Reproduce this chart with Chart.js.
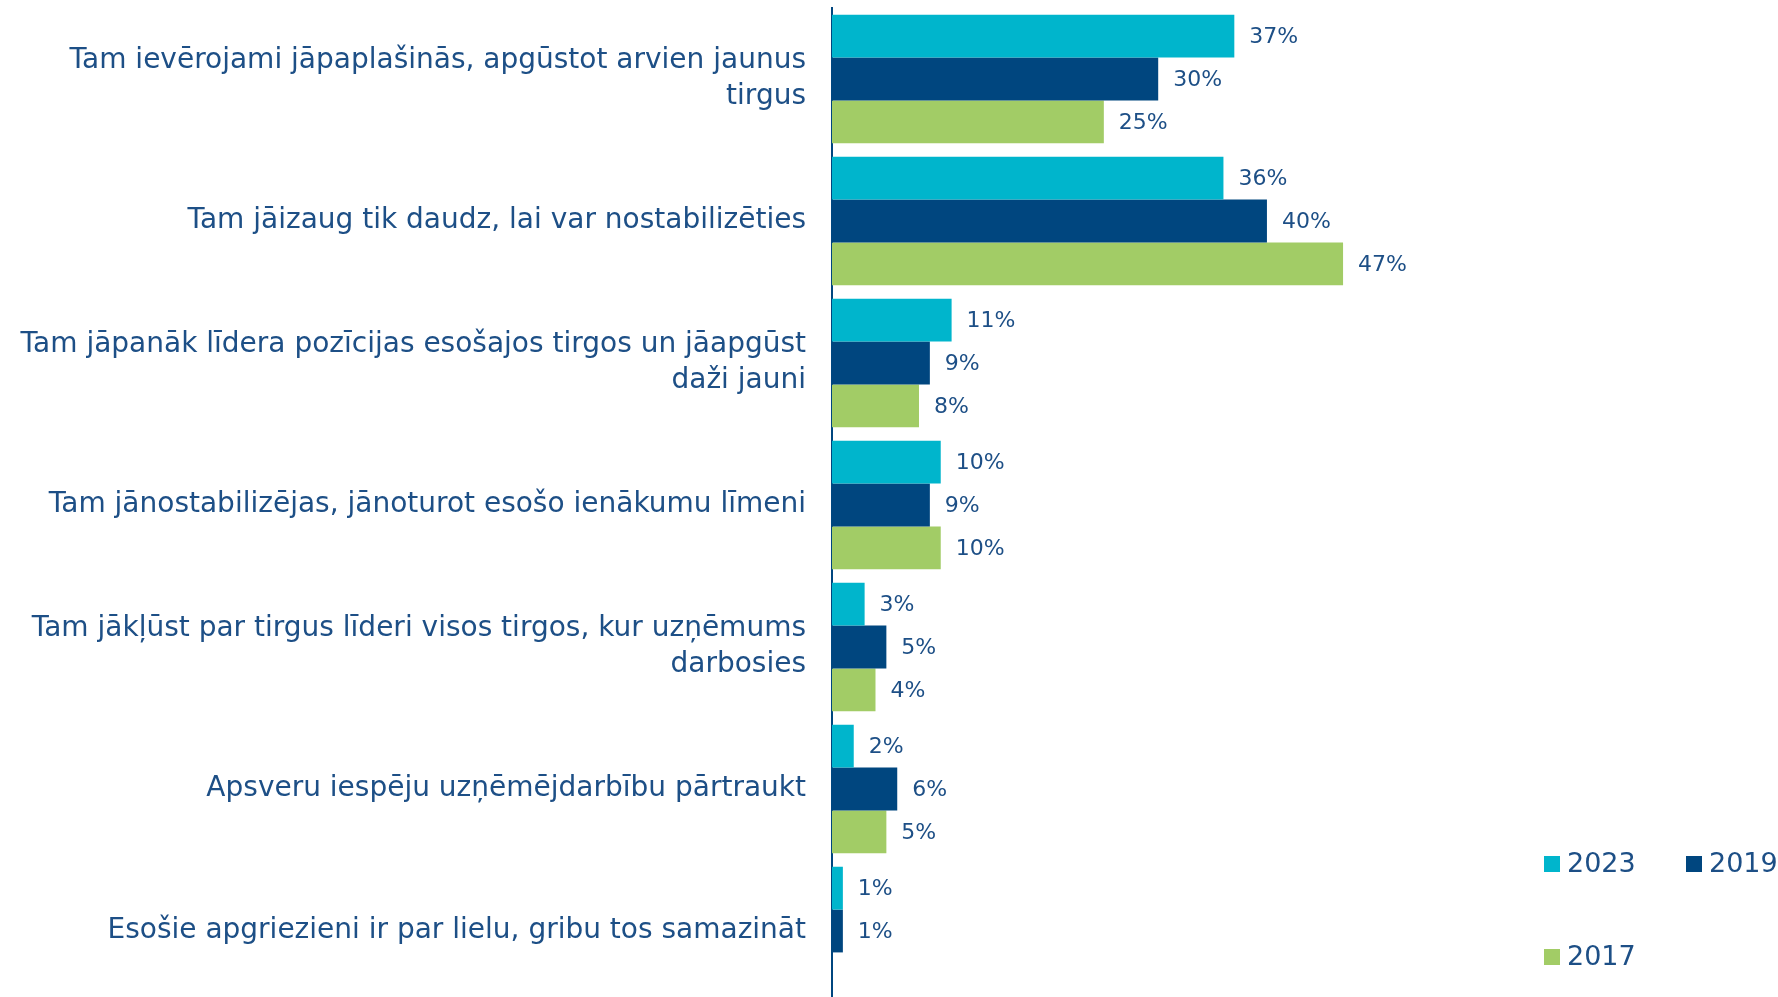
<!DOCTYPE html>
<html>
<head>
<meta charset="utf-8">
<script src="https://cdn.jsdelivr.net/npm/chart.js@4/dist/chart.umd.min.js"></script>
<style>
  html, body { margin: 0; padding: 0; background: #fff; overflow: hidden; }
  #wrap { width: 1778px; height: 1002px; }
</style>
</head>
<body>
<div id="wrap"><canvas id="myChart"></canvas></div>
<script>
// kategorijas (vairākrindu etiķetes)
const categories = [
  ['Tam ievērojami jāpaplašinās, apgūstot arvien jaunus', 'tirgus'],
  'Tam jāizaug tik daudz, lai var nostabilizēties',
  ['Tam jāpanāk līdera pozīcijas esošajos tirgos un jāapgūst', 'daži jauni'],
  'Tam jānostabilizējas, jānoturot esošo ienākumu līmeni',
  ['Tam jākļūst par tirgus līderi visos tirgos, kur uzņēmums', 'darbosies'],
  'Apsveru iespēju uzņēmējdarbību pārtraukt',
  'Esošie apgriezieni ir par lielu, gribu tos samazināt'
];
const values2023 = [37, 36, 11, 10, 3, 2, 1];
const values2019 = [30, 40, 9, 9, 5, 6, 1];
const values2017 = [25, 47, 8, 10, 4, 5, null];

const textColor = '#1d4f86';
const fontName = '"DejaVu Sans", sans-serif';

// vērtību etiķetes pie stabiņiem
const valueLabels = {
  id: 'valueLabels',
  afterDatasetsDraw(chart) {
    const ctx = chart.ctx;
    ctx.save();
    ctx.fillStyle = textColor;
    ctx.font = '22px ' + fontName;
    ctx.textBaseline = 'middle';
    ctx.textAlign = 'left';
    chart.data.datasets.forEach((ds, i) => {
      chart.getDatasetMeta(i).data.forEach((bar, j) => {
        const v = ds.data[j];
        if (v == null) return;
        ctx.fillText(v + '%', bar.x + 15, bar.y + 1);
      });
    });
    ctx.restore();
  }
};

// leģenda apakšā labajā pusē
const cornerLegend = {
  id: 'cornerLegend',
  afterDraw(chart) {
    const ctx = chart.ctx;
    const spots = [[1544, 864], [1686, 864], [1544, 957]];
    ctx.save();
    ctx.font = '27px ' + fontName;
    ctx.textBaseline = 'middle';
    chart.data.datasets.forEach((ds, i) => {
      const [x, y] = spots[i];
      ctx.fillStyle = ds.backgroundColor;
      ctx.fillRect(x, y - 8, 16, 16);
      ctx.fillStyle = textColor;
      ctx.fillText(ds.label, x + 23, y + 1);
    });
    ctx.restore();
  }
};

const ctx = document.getElementById('myChart');
const chart = new Chart(ctx, {
  type: 'bar',
  data: {
    labels: categories,
    datasets: [
      { label: '2023', data: values2023, backgroundColor: '#00b5cc' },
      { label: '2019', data: values2019, backgroundColor: '#00467f' },
      { label: '2017', data: values2017, backgroundColor: '#a2cc66' }
    ]
  },
  options: {
    indexAxis: 'y',
    responsive: true,
    maintainAspectRatio: false,
    animation: false,
    layout: { padding: { top: 8, bottom: 0, left: 0, right: 0 } },
    datasets: { bar: { categoryPercentage: 0.905, barPercentage: 1 } },
    plugins: { legend: { display: false }, tooltip: { enabled: false } },
    scales: {
      x: { display: false, min: 0, max: 87 },
      y: {
        grid: { display: false, drawTicks: false },
        border: { display: true, color: '#00467f', width: 2 },
        ticks: {
          color: textColor,
          padding: 26,
          font: { family: fontName, size: 28, lineHeight: 1.28 }
        },
        afterFit(scale) {
          scale.width = 832;
          scale.paddingTop = 0;
          scale.paddingBottom = 0;
        }
      }
    }
  },
  plugins: [valueLabels, cornerLegend]
});
</script>
</body>
</html>
